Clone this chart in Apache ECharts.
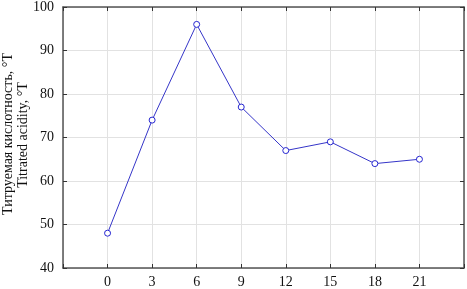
<!DOCTYPE html>
<html><head><meta charset="utf-8">
<script src="https://cdn.jsdelivr.net/npm/echarts@6/dist/echarts.min.js"></script>
<style>html,body{margin:0;padding:0;background:#fff}#c{width:467px;height:289px}</style>
</head><body><div id="c"></div>
<script>
const xValues = [0, 3, 6, 9, 12, 15, 18, 21];
const acidity = [48, 74, 96, 77, 67, 69, 64, 65];
const yLabel1 = 'Титруемая кислотность, °Т';
const yLabel2 = 'Titrated acidity, °T';

const chart = echarts.init(document.getElementById('c'));
const font = 'Liberation Serif, Times New Roman, serif';
const frame = {show: true, onZero: false, lineStyle: {color: '#555', width: 1.5}};
const tick = {show: true, inside: true, length: 4, lineStyle: {color: '#333'}};
chart.setOption({
  animation: false,
  grid: {left: 63, right: 1, top: 4, bottom: 19},
  xAxis: [{
    type: 'value', min: -3, max: 24, interval: 3, position: 'bottom',
    axisLine: frame, axisTick: tick,
    splitLine: {show: true, lineStyle: {color: '#e2e2e2'}},
    axisLabel: {color: '#111', fontFamily: font, fontSize: 14, margin: 7,
      formatter: v => (v < 0 || v > 21) ? '' : String(v)}
  }, {
    type: 'value', min: -3, max: 24, interval: 3, position: 'top',
    axisLine: frame, axisTick: tick, axisLabel: {show: false}, splitLine: {show: false}
  }],
  yAxis: [{
    type: 'value', min: 40, max: 100, interval: 10, position: 'left',
    axisLine: frame, axisTick: tick,
    splitLine: {show: true, lineStyle: {color: '#e2e2e2'}},
    axisLabel: {color: '#111', fontFamily: font, fontSize: 14, margin: 9}
  }, {
    type: 'value', min: 40, max: 100, interval: 10, position: 'right',
    axisLine: frame, axisTick: tick, axisLabel: {show: false}, splitLine: {show: false}
  }],
  graphic: [{
    type: 'text', x: 8, y: 134, rotation: Math.PI / 2,
    style: {text: yLabel1, fontFamily: font, fontSize: 14, fill: '#111',
      align: 'center', verticalAlign: 'middle'}
  }, {
    type: 'text', x: 23, y: 135, rotation: Math.PI / 2,
    style: {text: yLabel2, fontFamily: font, fontSize: 14, fill: '#111',
      align: 'center', verticalAlign: 'middle'}
  }],
  series: [{
    type: 'line', data: xValues.map((x, i) => [x, acidity[i]]),
    symbol: 'circle', symbolSize: 6,
    lineStyle: {color: '#3535c8', width: 1},
    itemStyle: {color: '#fff', borderColor: '#2525d0', borderWidth: 1}
  }]
});
</script></body></html>
